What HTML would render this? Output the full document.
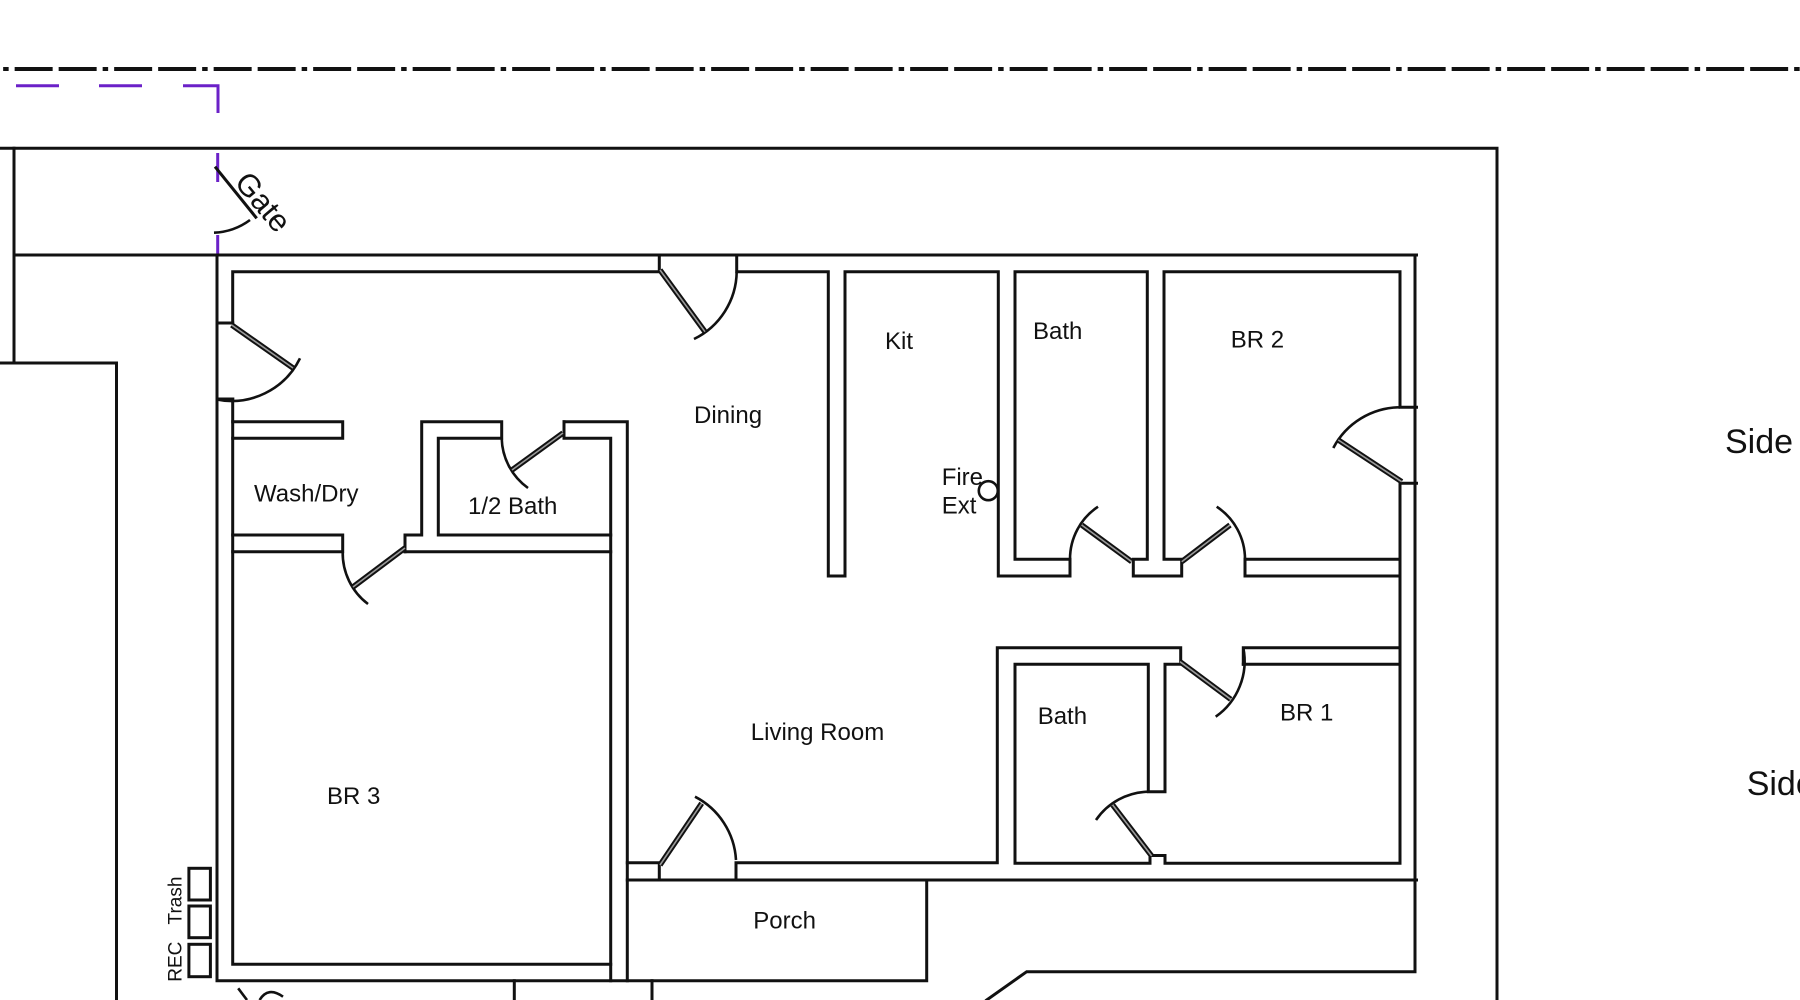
<!DOCTYPE html>
<html>
<head>
<meta charset="utf-8">
<style>
  html, body { margin: 0; padding: 0; background: #ffffff; }
  body { width: 1800px; height: 1000px; overflow: hidden; }
  svg { display: block; }
  text { font-family: "Liberation Sans", Arial, sans-serif; fill: #111; }
</style>
</head>
<body>
<svg width="1800" height="1000" viewBox="0 0 1800 1000" xmlns="http://www.w3.org/2000/svg">
  <rect x="0" y="0" width="1800" height="1000" fill="#ffffff"/>

  <!-- property dash-dot line -->
  <line x1="3" y1="69" x2="1800" y2="69" stroke="#111" stroke-width="4" stroke-dasharray="38 6 38 6 5.5 6" stroke-dashoffset="-11.65"/>

  <!-- purple dashed fence -->
  <g stroke="#6b21c8" stroke-width="3" fill="none">
    <line x1="16" y1="85.7" x2="59" y2="85.7"/>
    <line x1="99" y1="85.7" x2="142" y2="85.7"/>
    <path d="M183 85.7 H218 V113"/>
    <line x1="217.7" y1="153" x2="217.7" y2="182"/>
    <line x1="217.7" y1="235" x2="217.7" y2="255"/>
  </g>

  <!-- site boundary lines -->
  <g stroke="#111" stroke-width="3" fill="none" stroke-linecap="square">
    <path d="M0 148.3 H1497 V1000"/>
    <path d="M14 148.3 V363"/>
    <path d="M0 363 H116.5 V1000"/>
    <path d="M14 255 H1416.5"/>
  </g>

  <!-- house walls -->
  <g stroke="#111" stroke-width="3" fill="none" stroke-linecap="square" stroke-linejoin="miter">
    <!-- outer -->
    <path d="M217 255 V980.7 H926.7 V880"/>
    <path d="M627.3 880 H1416.5"/>
    <path d="M1415 255 V971.7 H1026.7 L986.7 1000"/>
    <path d="M514.3 980.7 V1000"/>
    <path d="M652 980.7 V1000"/>

    <!-- left inner + left door jambs -->
    <path d="M232.7 323 V271.7 H659.3 V255"/>
    <path d="M217 323 H232.7"/>
    <path d="M217 399 H232.7"/>
    <path d="M232.7 399 V964.3 H610.7"/>

    <!-- wash/dry shelf -->
    <path d="M232.7 421.7 H342.7 V438.3 H232.7"/>
    <!-- laundry bottom wall -->
    <path d="M232.7 535 H342.7 V551.7 H232.7"/>

    <!-- half bath -->
    <path d="M405 551.7 V535 H421.7 V421.7 H501.7 V438.3 H438.3 V535 H610.7"/>
    <path d="M405 551.7 H610.7"/>
    <path d="M564 421.7 V438.3 H610.7 V980.7"/>
    <path d="M564 421.7 H627.3 V980.7"/>

    <!-- top row interior -->
    <path d="M736.7 255 V271.7 H828.3 V576 H845 V271.7 H998.3 V576 H1070 V559.3 H1015 V271.7 H1147.3 V559.3 H1133.3 V576 H1181.7 V559.3 H1164 V271.7 H1400 V407.3 H1416.5"/>
    <path d="M1245 559.3 V576 H1400"/>
    <path d="M1245 559.3 H1400"/>

    <!-- lower right block -->
    <path d="M1416.5 483.3 H1400 V863.3 H1165 V855.5 H1150 V863.3 H1015 V664.3 H1148.3 V791.7 H1165 V664.3 H1180.7 V647.7 H997.3 V862.7 H736 V879.3"/>
    <path d="M1243.3 664.3 V647.7 H1400"/>
    <path d="M1243.3 664.3 H1400"/>

    <!-- living room door left jamb -->
    <path d="M627.3 862.7 H659.3 V879.3"/>

    <!-- trash bins -->
    <rect x="188.9" y="868.3" width="21.5" height="31.7"/>
    <rect x="188.9" y="906" width="21.5" height="31.7"/>
    <rect x="188.9" y="944.3" width="21.5" height="32.4"/>
  </g>

  <!-- door swing arcs -->
  <g stroke="#111" stroke-width="2.6" fill="none">
    <path d="M250 220 A65 65 0 0 1 214 232.7"/>
    <path d="M300 358.3 A76 76 0 0 1 216 399.3"/>
    <path d="M694 339 A76 76 0 0 0 736.7 271.7"/>
    <path d="M501.7 438.3 A63 63 0 0 0 528 488"/>
    <path d="M342.7 551.7 A64 64 0 0 0 368 604"/>
    <path d="M1070 559.3 A63 63 0 0 1 1098 506.7"/>
    <path d="M1245 559.3 A63 63 0 0 0 1216.7 506.7"/>
    <path d="M1333.3 448 A76 76 0 0 1 1400 407.3"/>
    <path d="M1215.7 716.7 A68 68 0 0 0 1243.3 647.7"/>
    <path d="M1096 820 A65 65 0 0 1 1148.3 791.7"/>
    <path d="M695 796.7 A76 76 0 0 1 736 860"/>
    <path d="M259.6 1000 Q268 986 283 996.7"/>
    <line x1="238.2" y1="988.3" x2="247" y2="1000"/>
  </g>

  <!-- gate leaf (single line) -->
  <line x1="215" y1="166.7" x2="256.7" y2="218.3" stroke="#111" stroke-width="3"/>

  <!-- door leaves (double line) -->
  <g stroke-linecap="butt">
    <g stroke="#111" stroke-width="5.5">
      <line x1="231.7" y1="325" x2="293" y2="368"/>
      <line x1="660" y1="270" x2="705" y2="331.7"/>
      <line x1="563" y1="433" x2="512" y2="470"/>
      <line x1="405" y1="548" x2="353" y2="587"/>
      <line x1="1131.7" y1="561.7" x2="1081.7" y2="525"/>
      <line x1="1181.7" y1="561.7" x2="1230" y2="525"/>
      <line x1="1401.7" y1="481.7" x2="1338.3" y2="440"/>
      <line x1="1180" y1="661.7" x2="1230.7" y2="699.3"/>
      <line x1="1151.7" y1="856" x2="1112.7" y2="805"/>
      <line x1="660" y1="865" x2="701.7" y2="803.3"/>
    </g>
    <g stroke="#9a9a9a" stroke-width="1.6">
      <line x1="231.7" y1="325" x2="293" y2="368"/>
      <line x1="660" y1="270" x2="705" y2="331.7"/>
      <line x1="563" y1="433" x2="512" y2="470"/>
      <line x1="405" y1="548" x2="353" y2="587"/>
      <line x1="1131.7" y1="561.7" x2="1081.7" y2="525"/>
      <line x1="1181.7" y1="561.7" x2="1230" y2="525"/>
      <line x1="1401.7" y1="481.7" x2="1338.3" y2="440"/>
      <line x1="1180" y1="661.7" x2="1230.7" y2="699.3"/>
      <line x1="1151.7" y1="856" x2="1112.7" y2="805"/>
      <line x1="660" y1="865" x2="701.7" y2="803.3"/>
    </g>
  </g>

  <!-- fire extinguisher -->
  <circle cx="988.3" cy="490.7" r="9.5" fill="#fff" stroke="#111" stroke-width="2.6"/>

  <!-- labels -->
  <g font-size="24">
    <text x="254" y="501.7">Wash/Dry</text>
    <text x="468" y="514">1/2 Bath</text>
    <text x="694" y="423">Dining</text>
    <text x="885" y="349">Kit</text>
    <text x="1033" y="339">Bath</text>
    <text x="1230.7" y="347.3">BR 2</text>
    <text x="941.7" y="485">Fire</text>
    <text x="941.7" y="513.3">Ext</text>
    <text x="750.8" y="740">Living Room</text>
    <text x="327" y="804">BR 3</text>
    <text x="1037.7" y="724">Bath</text>
    <text x="1280" y="720.7">BR 1</text>
    <text x="753.3" y="928.3">Porch</text>
  </g>
  <text x="1725" y="453" font-size="34">Side</text>
  <text x="1746.7" y="795" font-size="34">Side</text>

  <!-- gate label -->
  <text x="263" y="202" font-size="31" text-anchor="middle" dominant-baseline="central" transform="rotate(50 263 202)">Gate</text>

  <!-- trash labels -->
  <text x="181.5" y="900.5" font-size="19" text-anchor="middle" transform="rotate(-90 181.5 900.5)">Trash</text>
  <text x="181.5" y="961.7" font-size="19" text-anchor="middle" transform="rotate(-90 181.5 961.7)">REC</text>
</svg>
</body>
</html>
